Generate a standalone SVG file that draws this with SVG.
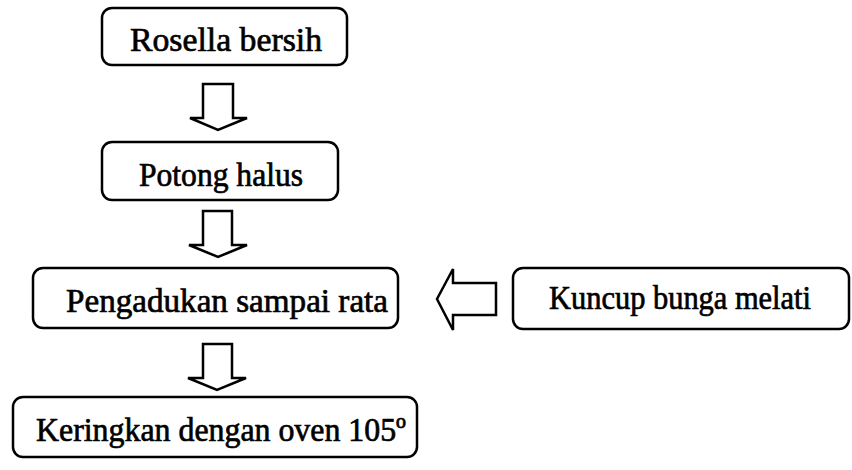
<svg xmlns="http://www.w3.org/2000/svg" width="852" height="470" viewBox="0 0 852 470">
<style>
.box{fill:#fff;stroke:#000;stroke-width:2.5}
.arr{fill:#fff;stroke:#000;stroke-width:2.5;stroke-linejoin:miter}
.t{font-family:"Liberation Serif","Times New Roman",serif;font-size:34px;fill:#000;stroke:#000;stroke-width:0.7}
</style>
<rect width="852" height="470" fill="#fff"/>
<g id="connectors">
<path class="arr" d="M203,84 H233 V118 H247 L218,130 L190,118 H203 Z"/>
<path class="arr" d="M203,211 H232 V245 H247 L218,257 L189,245 H203 Z"/>
<path class="arr" d="M203,344 H232 V378 H246 L217,390 L188,378 H203 Z"/>
<path class="arr" d="M496,283 V315 H453 V330 L437,299 L453,269 V283 Z"/>
</g>
<g id="n1">
<rect class="box" x="102" y="8" width="245" height="57" rx="10"/>
<text class="t" x="130" y="51" textLength="192" lengthAdjust="spacingAndGlyphs">Rosella bersih</text>
</g>
<g id="n2">
<rect class="box" x="102" y="142" width="236" height="58" rx="10"/>
<text class="t" x="139" y="186" textLength="164" lengthAdjust="spacingAndGlyphs">Potong halus</text>
</g>
<g id="n3">
<rect class="box" x="33" y="268" width="365" height="60" rx="10"/>
<text class="t" x="66" y="312" textLength="322" lengthAdjust="spacingAndGlyphs">Pengadukan sampai rata</text>
</g>
<g id="n4">
<rect class="box" x="513" y="268" width="336" height="61" rx="10"/>
<text class="t" x="549" y="309" textLength="262" lengthAdjust="spacingAndGlyphs">Kuncup bunga melati</text>
</g>
<g id="n5">
<rect class="box" x="13" y="397" width="404" height="60" rx="10"/>
<text class="t" x="36" y="441" textLength="370" lengthAdjust="spacingAndGlyphs">Keringkan dengan oven 105º</text>
</g>
</svg>
